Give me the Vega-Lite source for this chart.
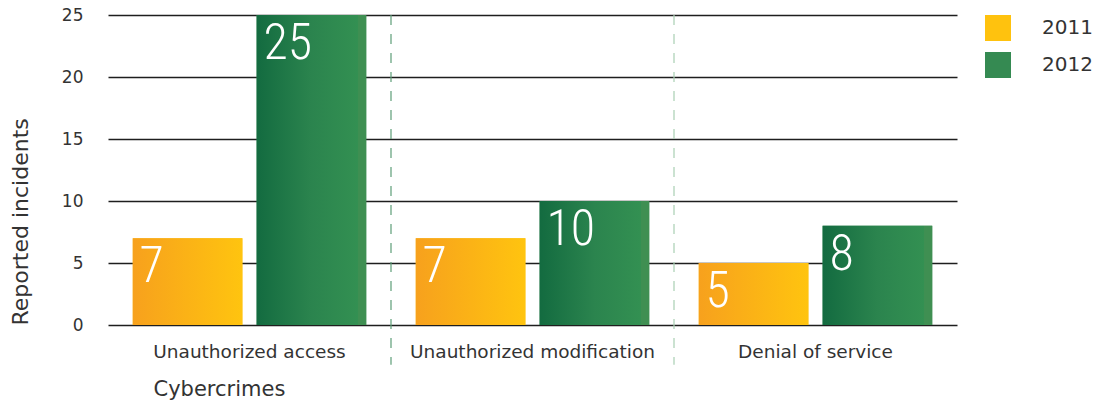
{
  "$schema": "https://vega.github.io/schema/vega-lite/v6.json",
  "autosize": {"type": "none"},
  "padding": {"left": 108, "top": 15, "right": 144, "bottom": 80},
  "width": 849,
  "height": 310,
  "background": "white",
  "config": {
    "view": {"stroke": null},
    "font": "DejaVu Sans",
    "axis": {"labelFont": "DejaVu Sans", "titleFont": "DejaVu Sans", "labelColor": "#333333", "titleColor": "#333333", "titleFontWeight": "normal"},
    "legend": {"labelFont": "DejaVu Sans"}
  },
  "datasets": {
    "bars": [
      {"cat": "Unauthorized access", "year": "2011", "value": 7},
      {"cat": "Unauthorized access", "year": "2012", "value": 25},
      {"cat": "Unauthorized modification", "year": "2011", "value": 7},
      {"cat": "Unauthorized modification", "year": "2012", "value": 10},
      {"cat": "Denial of service", "year": "2011", "value": 5},
      {"cat": "Denial of service", "year": "2012", "value": 8}
    ],
    "seps": [
      {"cat": "Unauthorized modification", "top": 25, "bottom": -3.2},
      {"cat": "Denial of service", "top": 25, "bottom": -3.2}
    ]
  },
  "encoding": {
    "x": {
      "field": "cat", "type": "nominal", "sort": null,
      "scale": {"domain": ["Unauthorized access", "Unauthorized modification", "Denial of service"], "paddingInner": 0, "paddingOuter": 0},
      "axis": {"title": "Cybercrimes", "domain": false, "ticks": false, "labelAngle": 0, "labelFontSize": 18.5, "labelLimit": 400, "labelPadding": 17, "titleFontSize": 21, "titleAnchor": "start", "titleAlign": "left", "titleX": 45, "titlePadding": 18}
    }
  },
  "layer": [
    {
      "data": {"name": "bars"},
      "mark": {"type": "bar"},
      "encoding": {
        "xOffset": {"field": "year", "type": "nominal", "scale": {"domain": ["2011", "2012"], "paddingInner": 0.115, "paddingOuter": 0.2}},
        "y": {
          "field": "value", "type": "quantitative",
          "scale": {"domain": [0, 25], "nice": false},
          "axis": {"title": "Reported incidents", "values": [0, 5, 10, 15, 20, 25], "domain": false, "ticks": false, "labelPadding": 25, "labelFontSize": 17, "titleFontSize": 22, "titleAnchor": "start", "titlePadding": 29, "gridColor": "#1e1e1e", "gridWidth": 1.5, "gridOpacity": 1}
        },
        "color": {
          "field": "year", "type": "nominal",
          "scale": {"domain": ["2011", "2012"], "range": ["#FFC20E", "#358A52"]},
          "legend": {"title": null, "orient": "right", "offset": 28, "symbolType": "square", "symbolSize": 676, "symbolOpacity": 1, "labelFontSize": 20, "labelColor": "#333333", "labelOffset": 31, "rowPadding": 11, "symbolStrokeWidth": 0}
        }
      }
    },
    {
      "data": {"name": "bars"},
      "transform": [{"filter": "datum.year == '2011'"}],
      "mark": {"type": "bar", "color": {"gradient": "linear", "x1": 0, "x2": 1, "y1": 0, "y2": 0, "stops": [{"offset": 0, "color": "#F7A11D"}, {"offset": 1, "color": "#FFC40F"}]}},
      "encoding": {
        "xOffset": {"field": "year", "type": "nominal"},
        "y": {"field": "value", "type": "quantitative"}
      }
    },
    {
      "data": {"name": "bars"},
      "transform": [{"filter": "datum.year == '2012'"}],
      "mark": {"type": "bar", "color": {"gradient": "linear", "x1": 0, "x2": 1, "y1": 0, "y2": 0, "stops": [{"offset": 0, "color": "#136B40"}, {"offset": 0.5, "color": "#2B844E"}, {"offset": 0.92, "color": "#339052"}, {"offset": 0.93, "color": "#3F8F52"}, {"offset": 1, "color": "#3F8F52"}]}},
      "encoding": {
        "xOffset": {"field": "year", "type": "nominal"},
        "y": {"field": "value", "type": "quantitative"}
      }
    },
    {
      "data": {"name": "bars"},
      "mark": {"type": "text", "align": "left", "baseline": "top", "dx": -48, "dy": 4, "font": "Roboto Condensed, Roboto", "fontWeight": 300, "fontSize": 50, "color": "white"},
      "encoding": {
        "xOffset": {"field": "year", "type": "nominal"},
        "y": {"field": "value", "type": "quantitative"},
        "text": {"field": "value", "type": "quantitative"}
      }
    },
    {
      "data": {"name": "seps"},
      "mark": {"type": "rule", "strokeDash": [10, 9], "strokeWidth": 1.2, "clip": false},
      "encoding": {
        "x": {"field": "cat", "type": "nominal", "bandPosition": 0},
        "y": {"field": "top", "type": "quantitative"},
        "y2": {"field": "bottom"},
        "stroke": {"field": "cat", "type": "nominal", "scale": {"domain": ["Unauthorized modification", "Denial of service"], "range": ["#5E9E78", "#A9CFB3"]}, "legend": null}
      }
    }
  ]
}
